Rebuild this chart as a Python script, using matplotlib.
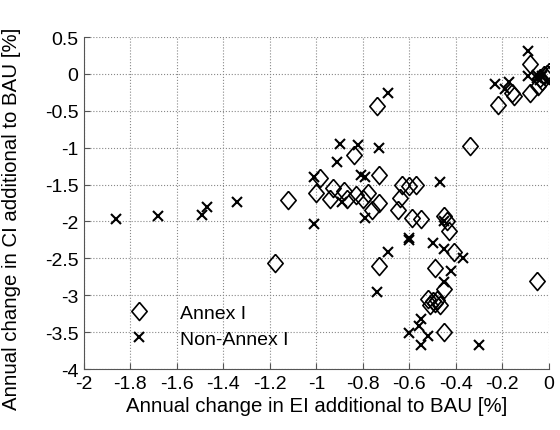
import matplotlib
matplotlib.use("Agg")
import matplotlib.pyplot as plt

plt.rcParams['font.family'] = ['Liberation Sans', 'DejaVu Sans']

# Annex I countries (diamonds): EI change, CI change
annex_ei = [-1.18, -1.12, -1.00, -0.985, -0.94, -0.93, -0.88, -0.87, -0.84, -0.83,
            -0.78, -0.80, -0.73, -0.76, -0.73, -0.74, -0.73, -0.63, -0.60, -0.57,
            -0.64, -0.65, -0.59, -0.55, -0.45, -0.44, -0.43, -0.41, -0.49, -0.45,
            -0.52, -0.50, -0.49, -0.48, -0.47, -0.51, -0.45, -0.34, -0.22, -0.16,
            -0.15, -0.08, -0.08, -0.045, -0.05, -0.04, -0.03, -0.02, 0.0, 0.0, -0.01]
annex_ci = [-2.56, -1.71, -1.62, -1.41, -1.69, -1.55, -1.59, -1.70, -1.10, -1.64,
            -1.61, -1.70, -1.75, -1.85, -1.37, -0.44, -2.61, -1.50, -1.52, -1.50,
            -1.68, -1.85, -1.95, -1.96, -1.92, -2.00, -2.13, -2.41, -2.63, -2.92,
            -3.05, -3.08, -3.11, -3.06, -3.13, -3.13, -3.50, -0.98, -0.42, -0.26,
            -0.30, 0.13, -0.26, -0.17, -2.81, -0.05, -0.09, -0.01, 0.03, -0.02, 0.0]

# Non-Annex I countries (crosses)
non_ei = [-1.86, -1.68, -1.49, -1.47, -1.34, -1.01, -1.01, -0.91, -0.90, -0.89,
          -0.82, -0.81, -0.79, -0.79, -0.73, -0.69, -0.69, -0.60, -0.60, -0.74,
          -0.50, -0.47, -0.45, -0.45, -0.45, -0.42, -0.37, -0.55, -0.56, -0.60,
          -0.52, -0.55, -0.30, -0.23, -0.19, -0.17, -0.09, -0.09, -0.05, -0.04,
          -0.03, -0.05]
non_ci = [-1.97, -1.93, -1.91, -1.80, -1.73, -1.40, -2.03, -1.19, -0.95, -1.73,
          -0.96, -1.37, -1.40, -1.95, -1.00, -0.26, -2.41, -2.23, -2.25, -2.96,
          -2.29, -1.46, -2.38, -2.00, -2.82, -2.67, -2.50, -3.32, -3.42, -3.51,
          -3.55, -3.67, -3.68, -0.14, -0.21, -0.11, 0.31, -0.03, -0.05, -0.08,
          -0.03, -0.01]

xticks = [-2, -1.8, -1.6, -1.4, -1.2, -1, -0.8, -0.6, -0.4, -0.2, 0]
yticks = [0.5, 0, -0.5, -1, -1.5, -2, -2.5, -3, -3.5, -4]

# MATLAB-like diamond, a bit taller than wide
diamond = [(0, 1), (0.85, 0), (0, -1), (-0.85, 0), (0, 1)]

fig = plt.figure(figsize=(5.6, 4.31), dpi=100)
ax = fig.add_axes([0.1497, 0.1415, 0.8305, 0.7703])

ax.plot(annex_ei, annex_ci, linestyle='none', marker=diamond, markersize=13,
        markerfacecolor='none', markeredgecolor='black', markeredgewidth=1.2,
        label='Annex I')
ax.plot(non_ei, non_ci, linestyle='none', marker='x', markersize=7,
        markeredgecolor='black', markeredgewidth=1.5, label='Non-Annex I')

ax.set_xlim(-2, 0)
ax.set_ylim(-4, 0.5)
ax.set_xticks(xticks)
ax.set_xticklabels([('%g' % t) for t in xticks])
ax.set_yticks(yticks)
ax.set_yticklabels([('%g' % t) for t in yticks])
ax.tick_params(direction='in', length=4, width=0.8, colors='#555555',
               labelcolor='black', labelsize=14, pad=4)
ax.grid(True, linestyle=':', color='#888888', linewidth=0.8)
ax.set_axisbelow(True)
for s in ['top', 'right']:
    ax.spines[s].set_visible(False)
for s in ['left', 'bottom']:
    ax.spines[s].set_color('#555555')

ax.set_xlabel('Annual change in EI additional to BAU [%]', fontsize=14.7, labelpad=3)
ax.set_ylabel('Annual change in CI additional to BAU [%]', fontsize=14.7, labelpad=3)
ax.yaxis.set_label_coords(-0.135, 0.455)

ax.legend(loc='lower left', bbox_to_anchor=(0.04, 0.01), frameon=False,
          fontsize=14, handletextpad=1.1, labelspacing=0.45)

fig.savefig('out.png', dpi=100)
